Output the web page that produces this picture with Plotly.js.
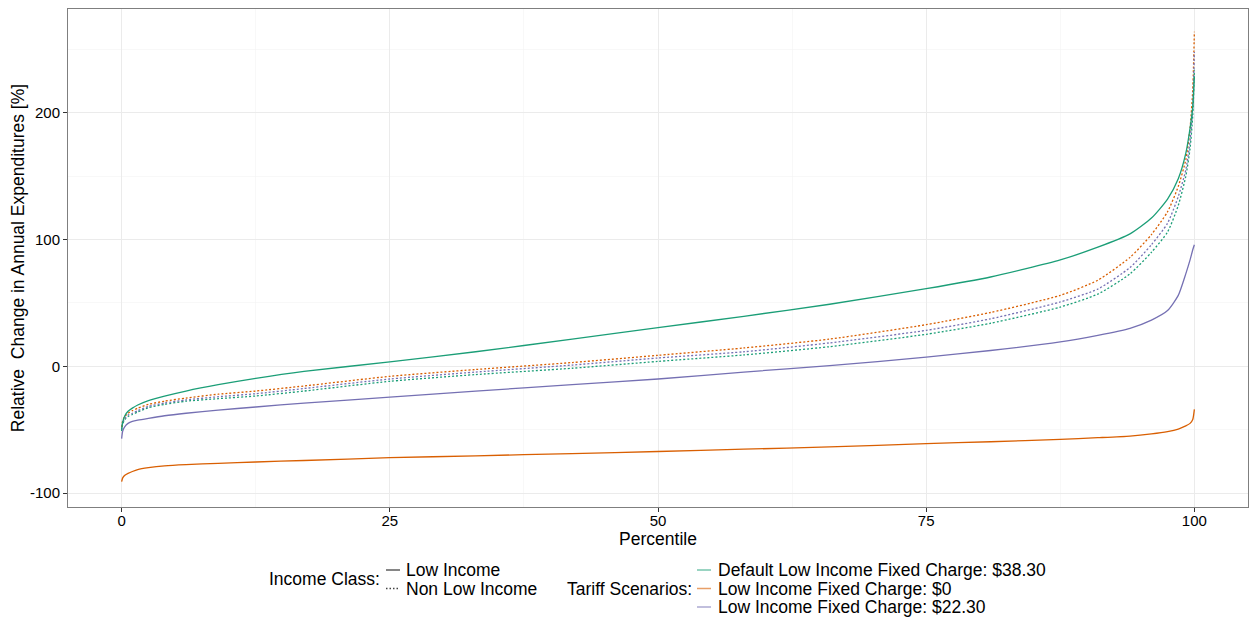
<!DOCTYPE html>
<html>
<head>
<meta charset="utf-8">
<script src="https://cdn.plot.ly/plotly-3.0.1.min.js"></script>
<style>html,body{margin:0;padding:0;background:#fff;}#chart{width:1249px;height:622px;}</style>
</head>
<body>
<div id="chart"></div>
<script>
// Percentile positions shared by all series
const percentile = [0, 0.1, 0.3, 0.6, 1, 1.5, 2.5, 4, 6, 9, 12.5, 17, 25, 33, 42, 50, 58, 66, 75, 81, 87.5, 91, 94, 96, 97.5, 98.5, 99.2, 99.6, 99.85, 100];

// Low Income – Default Low Income Fixed Charge: $38.30
const liDefault = [-50, -44, -39, -35.5, -33, -30.5, -27, -23.5, -19.5, -14.5, -9.5, -4, 3.5, 11.5, 21.5, 30.5, 39.5, 49, 61.3, 70.5, 84, 94, 104.5, 117, 132, 148, 168, 188, 205, 229];
// Low Income – Low Income Fixed Charge: $0
const liZero = [-91, -88, -86, -84.5, -83, -81.5, -80, -78.5, -77.5, -76.5, -75.5, -74.3, -72.1, -70.6, -68.8, -67.2, -65.4, -63.6, -61, -59.5, -57.6, -56.3, -55, -53.3, -51.5, -49.5, -47, -45, -42, -34];
// Low Income – Low Income Fixed Charge: $22.30
const li2230 = [-57, -51, -47.5, -45, -43.5, -42.5, -41, -39, -37, -34.5, -32.1, -29, -24.3, -19.5, -14.5, -10, -4.5, 0.5, 7.3, 12.5, 19.3, 24.5, 30, 36.5, 44, 56, 73, 84, 92, 96];
// Non Low Income – Default
const nliDefault = [-51, -45.5, -42, -39.5, -38, -36, -32.6, -30, -27.5, -25.5, -23.4, -19.5, -11.8, -6.5, -1.5, 3.9, 9, 15.5, 25.3, 34, 46.8, 57, 73, 90, 106, 127, 150, 172, 198, 234];
// Non Low Income – $0
const nliZero = [-48, -43, -39.5, -37, -35, -33, -30, -27.5, -25, -22, -19.5, -15.5, -7.9, -2.5, 3, 8.7, 14.5, 21.5, 32.9, 42.5, 56, 68, 86, 104, 122, 142, 163, 188, 218, 264];
// Non Low Income – $22.30
const nli2230 = [-50, -44.5, -41, -38.5, -37, -35, -31.6, -29, -26.5, -24, -21.6, -17.5, -10, -4.5, 1, 6.6, 11.5, 18.5, 28.4, 37.5, 50.8, 61, 78, 96, 113, 134, 155, 178, 205, 248];

const scenarios = ['Default Low Income Fixed Charge: $38.30', 'Low Income Fixed Charge: $0', 'Low Income Fixed Charge: $22.30'];
const scenarioColors = ['#1B9E77', '#D95F02', '#7570B3'];
const scenarioKeyColors = ['rgba(27,158,119,0.6)', 'rgba(217,95,2,0.6)', 'rgba(117,112,179,0.6)'];
const incomeClasses = ['Low Income', 'Non Low Income'];
const incomeDash = ['solid', '2px,2px'];

const xTicks = [0, 25, 50, 75, 100];
const xMinor = [12.5, 37.5, 62.5, 87.5];
const yTicks = [-100, 0, 100, 200];
const yMinor = [-50, 50, 150, 250];

const seriesByClass = [
  [liDefault, liZero, li2230],
  [nliDefault, nliZero, nli2230]
];

const traces = [];
// draw non-low-income (dotted) first, then low income (solid)
[1, 0].forEach(ci => {
  seriesByClass[ci].forEach((ys, si) => {
    traces.push({
      type: 'scatter', mode: 'lines',
      x: percentile, y: ys,
      name: incomeClasses[ci] + ' - ' + scenarios[si],
      line: {color: scenarioColors[si], width: 1.3, dash: incomeDash[ci], shape: 'spline', smoothing: 0.6},
      showlegend: false, hoverinfo: 'skip'
    });
  });
});

// Legend helpers (paper coordinates)
const L = 68, R = 1248, T = 9, B = 507;
const px = v => (v - L) / (R - L);
const py = v => (B - v) / (B - T);

const shapes = [];
const annotations = [];
const legendFont = {family: 'Liberation Sans, Arial, sans-serif', size: 17.5, color: '#000'};

annotations.push({xref: 'paper', yref: 'paper', x: px(382), y: py(579), xanchor: 'right', yanchor: 'middle', text: 'Income Class:', showarrow: false, font: legendFont});
incomeClasses.forEach((name, i) => {
  const yy = 570 + i * 18.5;
  shapes.push({type: 'line', xref: 'paper', yref: 'paper', x0: px(386), x1: px(400), y0: py(yy), y1: py(yy), line: {color: '#444', width: 1.3, dash: i === 0 ? 'solid' : '1.5px,2px'}});
  annotations.push({xref: 'paper', yref: 'paper', x: px(404), y: py(yy), xanchor: 'left', yanchor: 'middle', text: name, showarrow: false, font: legendFont});
});
annotations.push({xref: 'paper', yref: 'paper', x: px(694), y: py(588.5), xanchor: 'right', yanchor: 'middle', text: 'Tariff Scenarios:', showarrow: false, font: legendFont});
scenarios.forEach((name, i) => {
  const yy = 570 + i * 18.5;
  shapes.push({type: 'line', xref: 'paper', yref: 'paper', x0: px(697), x1: px(711), y0: py(yy), y1: py(yy), line: {color: scenarioKeyColors[i], width: 1.5}});
  annotations.push({xref: 'paper', yref: 'paper', x: px(716), y: py(yy), xanchor: 'left', yanchor: 'middle', text: name, showarrow: false, font: legendFont});
});

const axisCommon = {
  showline: true, mirror: true, linecolor: '#7f7f7f', linewidth: 1,
  ticks: 'outside', ticklen: 4, tickcolor: '#333', tickwidth: 1,
  showgrid: true, gridcolor: '#ebebeb', gridwidth: 1,
  zeroline: false,
  tickfont: {family: 'Liberation Sans, Arial, sans-serif', size: 15, color: '#000'},
  automargin: false
};
const titleFont = {family: 'Liberation Sans, Arial, sans-serif', size: 17.5, color: '#000'};

const layout = {
  width: 1249, height: 622,
  margin: {l: 68, r: 1, t: 9, b: 115},
  paper_bgcolor: '#fff', plot_bgcolor: '#fff',
  showlegend: false,
  xaxis: Object.assign({}, axisCommon, {
    range: [-5, 105], tickmode: 'array', tickvals: xTicks, ticktext: xTicks.map(String),
    ticklabelstandoff: -4,
    minor: {tickmode: 'array', tickvals: xMinor, showgrid: true, gridcolor: '#f4f4f4', gridwidth: 0.6, ticks: ''},
    title: {text: 'Percentile', standoff: 0, font: titleFont}
  }),
  yaxis: Object.assign({}, axisCommon, {
    range: [-111, 282], tickmode: 'array', tickvals: yTicks, ticktext: yTicks.map(String),
    minor: {tickmode: 'array', tickvals: yMinor, showgrid: true, gridcolor: '#f4f4f4', gridwidth: 0.6, ticks: ''},
    title: {text: 'Relative  Change in Annual Expenditures [%]', standoff: 0, font: titleFont}
  }),
  shapes: shapes,
  annotations: annotations
};

Plotly.newPlot('chart', traces, layout, {displayModeBar: false, staticPlot: true});
</script>
</body>
</html>
